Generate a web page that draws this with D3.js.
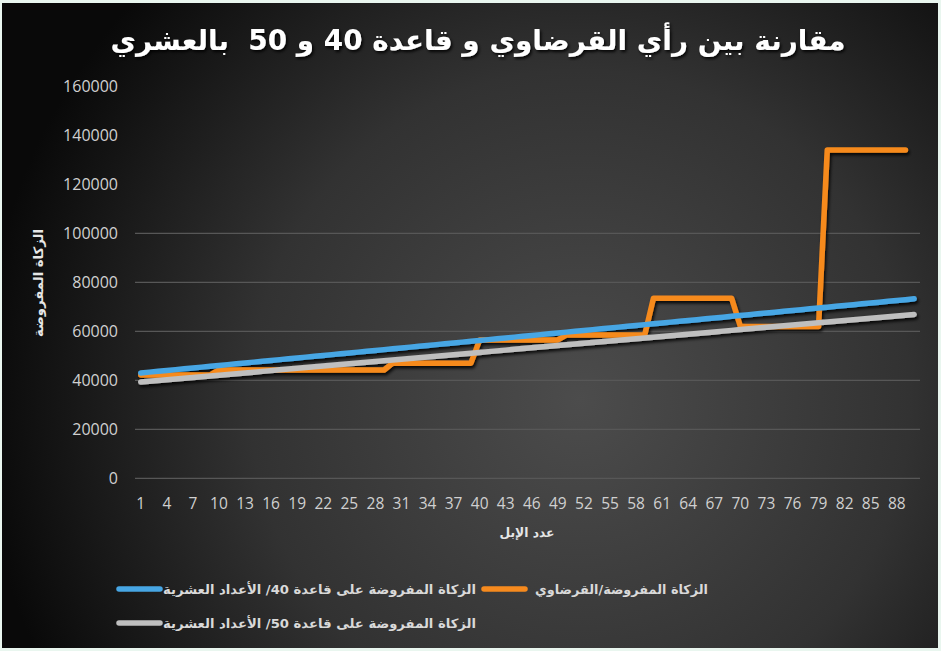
<!DOCTYPE html>
<html><head><meta charset="utf-8">
<script src="https://cdn.jsdelivr.net/npm/d3@7/dist/d3.min.js"></script>
<style>
html,body{margin:0;padding:0;background:#e9f6ef;}
svg{display:block;}
</style></head>
<body>
<svg id="chart" width="941" height="651"></svg>
<script>
// ---------- DATA ----------
const title = "مقارنة بين رأي القرضاوي و قاعدة 40 و 50  بالعشري";
const yAxisTitle = "الزكاة المفروضة";
const xAxisTitle = "عدد الإبل";
const categories = d3.range(1, 91); // 1..90
const yTicks = [0, 20000, 40000, 60000, 80000, 100000, 120000, 140000, 160000];
const gridValues = [0, 20000, 40000, 60000, 80000, 100000];
const seriesNames = [
  "الزكاة المفروضة/القرضاوي",
  "الزكاة المفروضة على قاعدة 40/ الأعداد العشرية",
  "الزكاة المفروضة على قاعدة 50/ الأعداد العشرية"
];
const qaradawi = [
  42200,42200,42200,42200,42200,42200,42200,42200,42200,
  44200,44200,44200,44200,44200,44200,44200,44200,44200,44200,
  44200,44200,44200,44200,44200,44200,44200,44200,44200,44200,
  47000,47000,47000,47000,47000,47000,47000,47000,47000,47000,
  56500,56500,56500,56500,56500,56500,56500,56500,56500,56500,
  58500,58500,58500,58500,58500,58500,58500,58500,58500,58500,
  73500,73500,73500,73500,73500,73500,73500,73500,73500,73500,
  62000,62000,62000,62000,62000,62000,62000,62000,62000,62000,
  134000,134000,134000,134000,134000,134000,134000,134000,134000,134000
];
const base40 = [
  43000,43340,43680,44020,44360,44700,45040,45380,45720,46060,
  46400,46740,47080,47420,47760,48100,48440,48780,49120,49460,
  49800,50140,50480,50820,51160,51500,51840,52180,52520,52860,
  53200,53540,53880,54220,54560,54900,55240,55580,55920,56260,
  56600,56940,57280,57620,57960,58300,58640,58980,59320,59660,
  60000,60340,60680,61020,61360,61700,62040,62380,62720,63060,
  63400,63740,64080,64420,64760,65100,65440,65780,66120,66460,
  66800,67140,67480,67820,68160,68500,68840,69180,69520,69860,
  70200,70540,70880,71220,71560,71900,72240,72580,72920,73260
];
const base50 = [
  39300,39610,39920,40230,40540,40850,41160,41470,41780,42090,
  42400,42710,43020,43330,43640,43950,44260,44570,44880,45190,
  45500,45810,46120,46430,46740,47050,47360,47670,47980,48290,
  48600,48910,49220,49530,49840,50150,50460,50770,51080,51390,
  51700,52010,52320,52630,52940,53250,53560,53870,54180,54490,
  54800,55110,55420,55730,56040,56350,56660,56970,57280,57590,
  57900,58210,58520,58830,59140,59450,59760,60070,60380,60690,
  61000,61310,61620,61930,62240,62550,62860,63170,63480,63790,
  64100,64410,64720,65030,65340,65650,65960,66270,66580,66890
];
const colors = ["#f68a1e", "#47a6e4", "#bfbfbf"];

// ---------- CHART ----------
const svg = d3.select("#chart");
const defs = svg.append("defs");
const rg = defs.append("radialGradient").attr("id","bg").attr("gradientUnits","userSpaceOnUse")
  .attr("cx",580).attr("cy",400).attr("r",600);
rg.append("stop").attr("offset","0").attr("stop-color","#4c4c4c");
rg.append("stop").attr("offset","0.55").attr("stop-color","#323232");
rg.append("stop").attr("offset","1").attr("stop-color","#090909");
const sh = defs.append("filter").attr("id","shadow").attr("x","-10%").attr("y","-10%").attr("width","130%").attr("height","130%");
sh.append("feDropShadow").attr("dx",1.5).attr("dy",2.5).attr("stdDeviation",1.5).attr("flood-color","#000").attr("flood-opacity",0.85);
const tsh = defs.append("filter").attr("id","tshadow");
tsh.append("feDropShadow").attr("dx",1.5).attr("dy",2).attr("stdDeviation",1.5).attr("flood-color","#000").attr("flood-opacity",0.9);

svg.append("rect").attr("x",2).attr("y",3).attr("width",936).attr("height",645).attr("fill","url(#bg)");

const x = d3.scaleBand().domain(categories).range([136.4, 918.5]);
const y = d3.scaleLinear().domain([0,160000]).range([478.3, 86.3]);
const cx = d => x(d) + x.bandwidth()/2;

// gridlines
svg.append("g").selectAll("line").data(gridValues).join("line")
  .attr("x1",135).attr("x2",920).attr("y1",d=>y(d)).attr("y2",d=>y(d))
  .attr("stroke","#575757").attr("stroke-width",1.3);

// y axis labels
const yAxis = d3.axisLeft(y).tickValues(yTicks).tickSize(0).tickPadding(0).tickFormat(d3.format("d"));
const gy = svg.append("g").attr("transform","translate(118,0)").call(yAxis);
gy.select(".domain").remove();
gy.selectAll("text").attr("fill","#d0d0d0").attr("font-family","Open Sans, sans-serif").attr("font-size",16);

// x axis labels
const xAxis = d3.axisBottom(x).tickValues(categories.filter((d,i)=>i%3===0)).tickSize(0).tickPadding(0);
const gx = svg.append("g").attr("transform","translate(0,498)").call(xAxis);
gx.select(".domain").remove();
gx.selectAll("text").attr("fill","#d0d0d0").attr("font-family","Open Sans, sans-serif").attr("font-size",15.5);

// lines
const line = d3.line().x((d,i)=>cx(categories[i])).y(d=>y(d));
const allSeries = [qaradawi, base40, base50];
svg.append("g").attr("filter","url(#shadow)").selectAll("path").data(allSeries).join("path")
  .attr("d", d=>line(d)).attr("fill","none")
  .attr("stroke",(d,i)=>colors[i]).attr("stroke-width",5.5)
  .attr("stroke-linecap","round").attr("stroke-linejoin","round");

// title
svg.append("text").attr("x",478).attr("y",50).attr("text-anchor","middle").attr("direction","rtl")
  .style("white-space","pre")
  .attr("font-family","DejaVu Sans, sans-serif").attr("font-weight","bold").attr("font-size",28)
  .attr("fill","#ffffff").attr("filter","url(#tshadow)")
  .attr("textLength",735).attr("lengthAdjust","spacingAndGlyphs")
  .text(title);

// axis titles
svg.append("text").attr("transform","translate(43,283) rotate(-90)").attr("text-anchor","middle").attr("direction","rtl")
  .attr("font-family","DejaVu Sans, sans-serif").attr("font-weight","bold").attr("font-size",13)
  .attr("fill","#e6e6e6").attr("textLength",108).attr("lengthAdjust","spacingAndGlyphs").text(yAxisTitle);
svg.append("text").attr("x",527).attr("y",537).attr("text-anchor","middle").attr("direction","rtl")
  .attr("font-family","DejaVu Sans, sans-serif").attr("font-weight","bold").attr("font-size",13)
  .attr("fill","#e6e6e6").attr("textLength",55).attr("lengthAdjust","spacingAndGlyphs").text(xAxisTitle);

// legend
const legendItems = [
  {name: seriesNames[1], color: colors[1], lx: 117, ly: 589, tx: 163, tw: 313},
  {name: seriesNames[0], color: colors[0], lx: 482, ly: 589, tx: 535, tw: 173},
  {name: seriesNames[2], color: colors[2], lx: 117, ly: 623, tx: 163, tw: 313}
];
const lg = svg.append("g");
legendItems.forEach(it => {
  lg.append("line").attr("x1",it.lx+2).attr("x2",it.lx+43).attr("y1",it.ly).attr("y2",it.ly)
    .attr("stroke",it.color).attr("stroke-width",5.5).attr("stroke-linecap","round");
  lg.append("text").attr("x",it.tx + it.tw/2).attr("y",it.ly+5).attr("text-anchor","middle").attr("direction","rtl")
    .attr("font-family","DejaVu Sans, sans-serif").attr("font-weight","bold").attr("font-size",13)
    .attr("fill","#d9d9d9").attr("textLength",it.tw).attr("lengthAdjust","spacingAndGlyphs").text(it.name);
});
</script>
</body></html>
